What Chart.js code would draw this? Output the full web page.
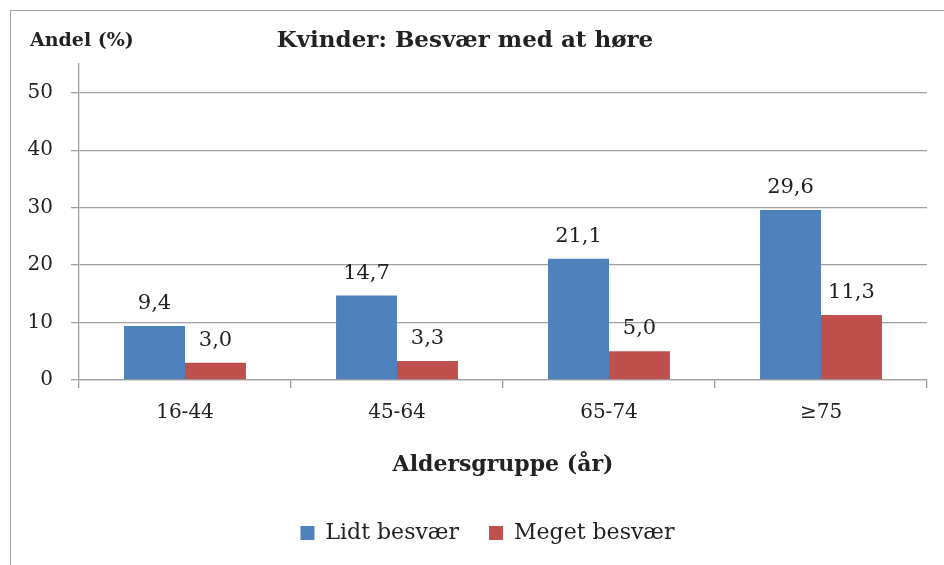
<!DOCTYPE html>
<html lang="da">
<head>
<meta charset="utf-8">
<title>Kvinder: Besvær med at høre</title>
<script src="https://cdn.jsdelivr.net/npm/chart.js@4.4.1/dist/chart.umd.min.js"></script>
<style>
    html, body { margin: 0; padding: 0; background: #fff; overflow: hidden; }
    #wrap { position: relative; width: 944px; height: 565px; }
    #frame { position: absolute; left: 10px; top: 10px; width: 1000px; height: 1000px; border: 1px solid #a3a3a3; pointer-events: none; }
    canvas { position: absolute; left: 0; top: 0; }
</style>
</head>
<body>
<div id="wrap">
    <canvas id="chart" width="944" height="565"></canvas>
    <div id="frame"></div>
</div>
<script>
// Chart data
const ageGroups = ['16-44', '45-64', '65-74', '\u226575'];
const lidtBesvaer = [9.4, 14.7, 21.1, 29.6];
const megetBesvaer = [3.0, 3.3, 5.0, 11.3];
const yTicks = [0, 10, 20, 30, 40, 50];

const serif = '"DejaVu Serif", serif';
const textColor = '#222';
const axisGray = '#a0a0a0';

// Danish number format: 9,4
function formatValue(v) {
    return v.toFixed(1).replace('.', ',');
}

// Value labels above each bar
const barLabels = {
    id: 'barLabels',
    afterDatasetsDraw(chart) {
        const ctx = chart.ctx;
        ctx.save();
        ctx.font = '21px ' + serif;
        ctx.fillStyle = textColor;
        ctx.textAlign = 'center';
        ctx.textBaseline = 'alphabetic';
        chart.data.datasets.forEach((ds, i) => {
            chart.getDatasetMeta(i).data.forEach((bar, j) => {
                ctx.fillText(formatValue(ds.data[j]), bar.x, bar.y - 17);
            });
        });
        ctx.restore();
    }
};

// Title and y-axis caption, legend nudge
const headings = {
    id: 'headings',
    afterLayout(chart) {
        const lg = chart.legend;
        lg.left += 24;
        lg.right += 24;
        lg.top -= 11;
        lg.bottom -= 11;
    },
    afterDraw(chart) {
        const ctx = chart.ctx;
        ctx.save();
        ctx.fillStyle = textColor;
        ctx.textBaseline = 'alphabetic';
        ctx.font = 'bold 19px ' + serif;
        ctx.textAlign = 'left';
        ctx.fillText('Andel (%)', 30, 46);
        ctx.font = 'bold 23px ' + serif;
        ctx.textAlign = 'center';
        ctx.fillText('Kvinder: Besvær med at høre', 465, 47);
        ctx.restore();
    }
};

const ctx = document.getElementById('chart').getContext('2d');
new Chart(ctx, {
    type: 'bar',
    data: {
        labels: ageGroups,
        datasets: [
            { label: 'Lidt besvær', data: lidtBesvaer, backgroundColor: '#4F81BD' },
            { label: 'Meget besvær', data: megetBesvaer, backgroundColor: '#C0504D' }
        ]
    },
    options: {
        responsive: false,
        animation: false,
        layout: { padding: { top: 64, right: 17, bottom: 0, left: 0 } },
        datasets: { bar: { categoryPercentage: 0.575, barPercentage: 1 } },
        plugins: {
            title: { display: false },
            tooltip: { enabled: false },
            legend: {
                position: 'bottom',
                labels: {
                    boxWidth: 14,
                    boxHeight: 14,
                    padding: 30,
                    color: textColor,
                    font: { family: serif, size: 22 }
                }
            }
        },
        scales: {
            x: {
                grid: { drawOnChartArea: false, drawTicks: true, tickLength: 8, color: axisGray, lineWidth: 1.3 },
                border: { color: axisGray, width: 1.3 },
                ticks: { color: textColor, padding: 13, font: { family: serif, size: 20 } },
                title: {
                    display: true,
                    text: 'Aldersgruppe (år)',
                    color: textColor,
                    font: { family: serif, size: 22, weight: 'bold' },
                    padding: { top: 4, bottom: 25 }
                },
                afterFit(scale) { scale.height = 123; }
            },
            y: {
                min: 0,
                max: 55,
                grid: { color: axisGray, lineWidth: 1.3, tickLength: 8 },
                border: { color: axisGray, width: 1.3 },
                ticks: { color: textColor, padding: 18, font: { family: serif, size: 20 } },
                afterBuildTicks(scale) { scale.ticks = yTicks.map(v => ({ value: v })); },
                afterFit(scale) { scale.width = 79; }
            }
        }
    },
    plugins: [barLabels, headings]
});
</script>
</body>
</html>
